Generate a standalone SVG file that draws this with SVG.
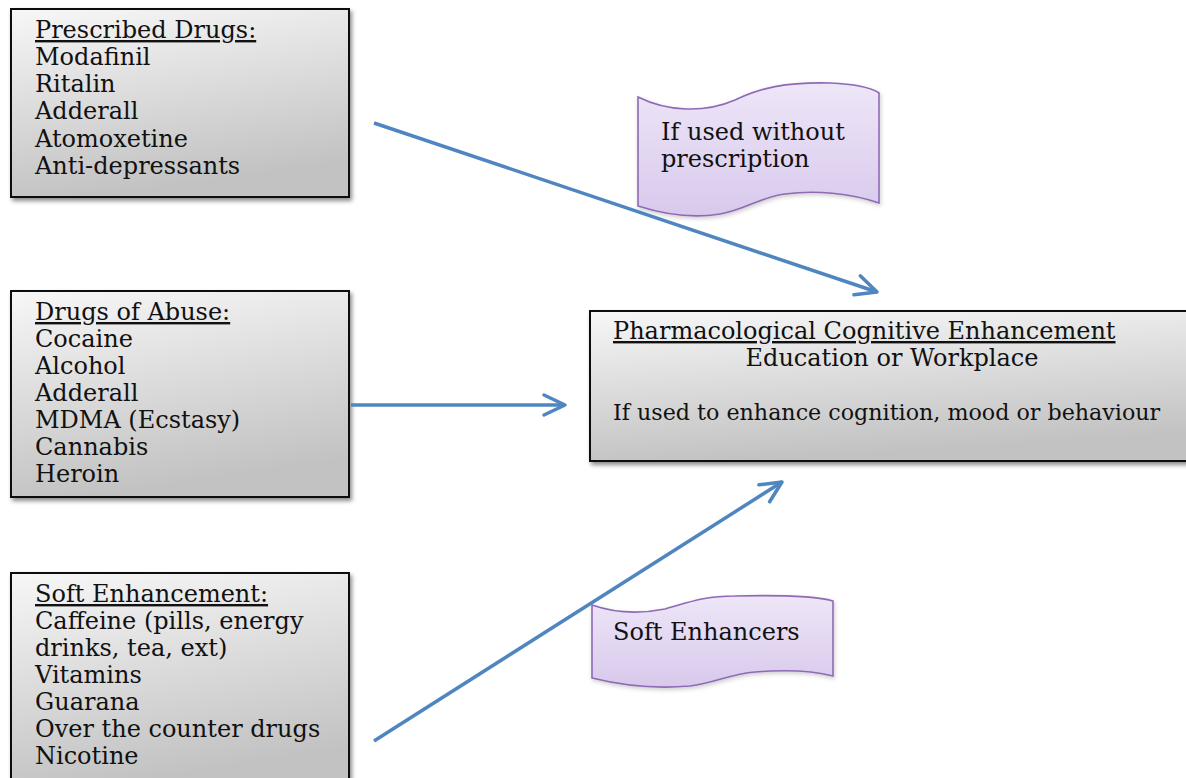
<svg xmlns="http://www.w3.org/2000/svg" width="1186" height="778" viewBox="0 0 1186 778">
<style>
  .t { font-family: "DejaVu Serif", "Liberation Serif", serif; font-size: 24px; fill: #111; }
  .u { text-decoration: underline; }
  .box { fill: url(#gGray); stroke: #111; stroke-width: 2; filter: url(#sh); }
  .ban { fill: url(#gLav); stroke: #8e6bb5; stroke-width: 1.6; filter: url(#sh2); }
  .con { stroke: #4f86c0; stroke-width: 3.5; fill: none; marker-end: url(#ah); }
</style>
<defs>
  <linearGradient id="gGray" x1="0" y1="0" x2="0.25" y2="1">
    <stop offset="0" stop-color="#f7f7f7"/>
    <stop offset="1" stop-color="#c2c2c2"/>
  </linearGradient>
  <linearGradient id="gLav" x1="0" y1="0" x2="0" y2="1">
    <stop offset="0" stop-color="#eee6f8"/>
    <stop offset="1" stop-color="#d8c9ec"/>
  </linearGradient>
  <filter id="sh" x="-5%" y="-5%" width="115%" height="115%">
    <feDropShadow dx="2" dy="3" stdDeviation="2" flood-color="#000" flood-opacity="0.45"/>
  </filter>
  <filter id="sh2" x="-5%" y="-5%" width="115%" height="115%">
    <feDropShadow dx="1" dy="2" stdDeviation="2" flood-color="#000" flood-opacity="0.2"/>
  </filter>
  <marker id="ah" markerUnits="userSpaceOnUse" markerWidth="28" markerHeight="28" viewBox="0 0 28 28" refX="24" refY="14" orient="auto">
    <path d="M3,4 L24,14 L3,24" fill="none" stroke="#4f86c0" stroke-width="3.5" stroke-linecap="round" stroke-linejoin="round"/>
  </marker>
</defs>
<rect width="1186" height="778" fill="#fff"/>

<g id="node-prescribed">
  <rect class="box" x="11" y="9" width="338" height="188"/>
  <text class="t" x="35" y="38"><tspan class="u">Prescribed Drugs:</tspan></text>
  <text class="t" x="35" y="65">Modafinil</text>
  <text class="t" x="35" y="92">Ritalin</text>
  <text class="t" x="35" y="119">Adderall</text>
  <text class="t" x="35" y="147">Atomoxetine</text>
  <text class="t" x="35" y="174">Anti-depressants</text>
</g>

<g id="node-abuse">
  <rect class="box" x="11" y="291" width="338" height="206"/>
  <text class="t" x="35" y="320"><tspan class="u">Drugs of Abuse:</tspan></text>
  <text class="t" x="35" y="347">Cocaine</text>
  <text class="t" x="35" y="374">Alcohol</text>
  <text class="t" x="35" y="401">Adderall</text>
  <text class="t" x="35" y="428">MDMA (Ecstasy)</text>
  <text class="t" x="35" y="455">Cannabis</text>
  <text class="t" x="35" y="482">Heroin</text>
</g>

<g id="node-soft">
  <rect class="box" x="11" y="573" width="338" height="215"/>
  <text class="t" x="35" y="602"><tspan class="u">Soft Enhancement:</tspan></text>
  <text class="t" x="35" y="629">Caffeine (pills, energy</text>
  <text class="t" x="35" y="656">drinks, tea, ext)</text>
  <text class="t" x="35" y="683">Vitamins</text>
  <text class="t" x="35" y="710">Guarana</text>
  <text class="t" x="35" y="737">Over the counter drugs</text>
  <text class="t" x="35" y="764">Nicotine</text>
</g>

<g id="node-pce">
  <rect class="box" x="590" y="311" width="604" height="150"/>
  <text class="t" x="613" y="339"><tspan class="u">Pharmacological Cognitive Enhancement</tspan></text>
  <text class="t" x="892" y="366" text-anchor="middle">Education or Workplace</text>
  <text class="t" x="613" y="420" style="font-size:22.2px">If used to enhance cognition, mood or behaviour</text>
</g>

<g id="node-banner-prescription">
  <path class="ban" d="M638,97 C668,112 705,113 735,100 C760,88 785,82 830,83 C855,84 870,87 879,93 L879,203 C850,193 815,190 785,194 C760,197 745,210 720,214 C690,219 660,213 638,206 Z"/>
  <text class="t" x="661" y="140">If used without</text>
  <text class="t" x="661" y="167">prescription</text>
</g>

<g id="node-banner-soft">
  <path class="ban" d="M592,605 C615,613 640,614 665,609 C690,602 705,596 735,596 C780,595 815,596 833,601 L833,676 C810,670 780,670 755,672 C730,674 715,683 690,686 C655,689 620,685 592,678 Z"/>
  <text class="t" x="613" y="640">Soft Enhancers</text>
</g>

<g id="connectors">
  <line class="con" x1="374" y1="123" x2="877" y2="292"/>
  <line class="con" x1="351" y1="405" x2="565" y2="405"/>
  <line class="con" x1="374" y1="741" x2="782" y2="482"/>
</g>
</svg>
